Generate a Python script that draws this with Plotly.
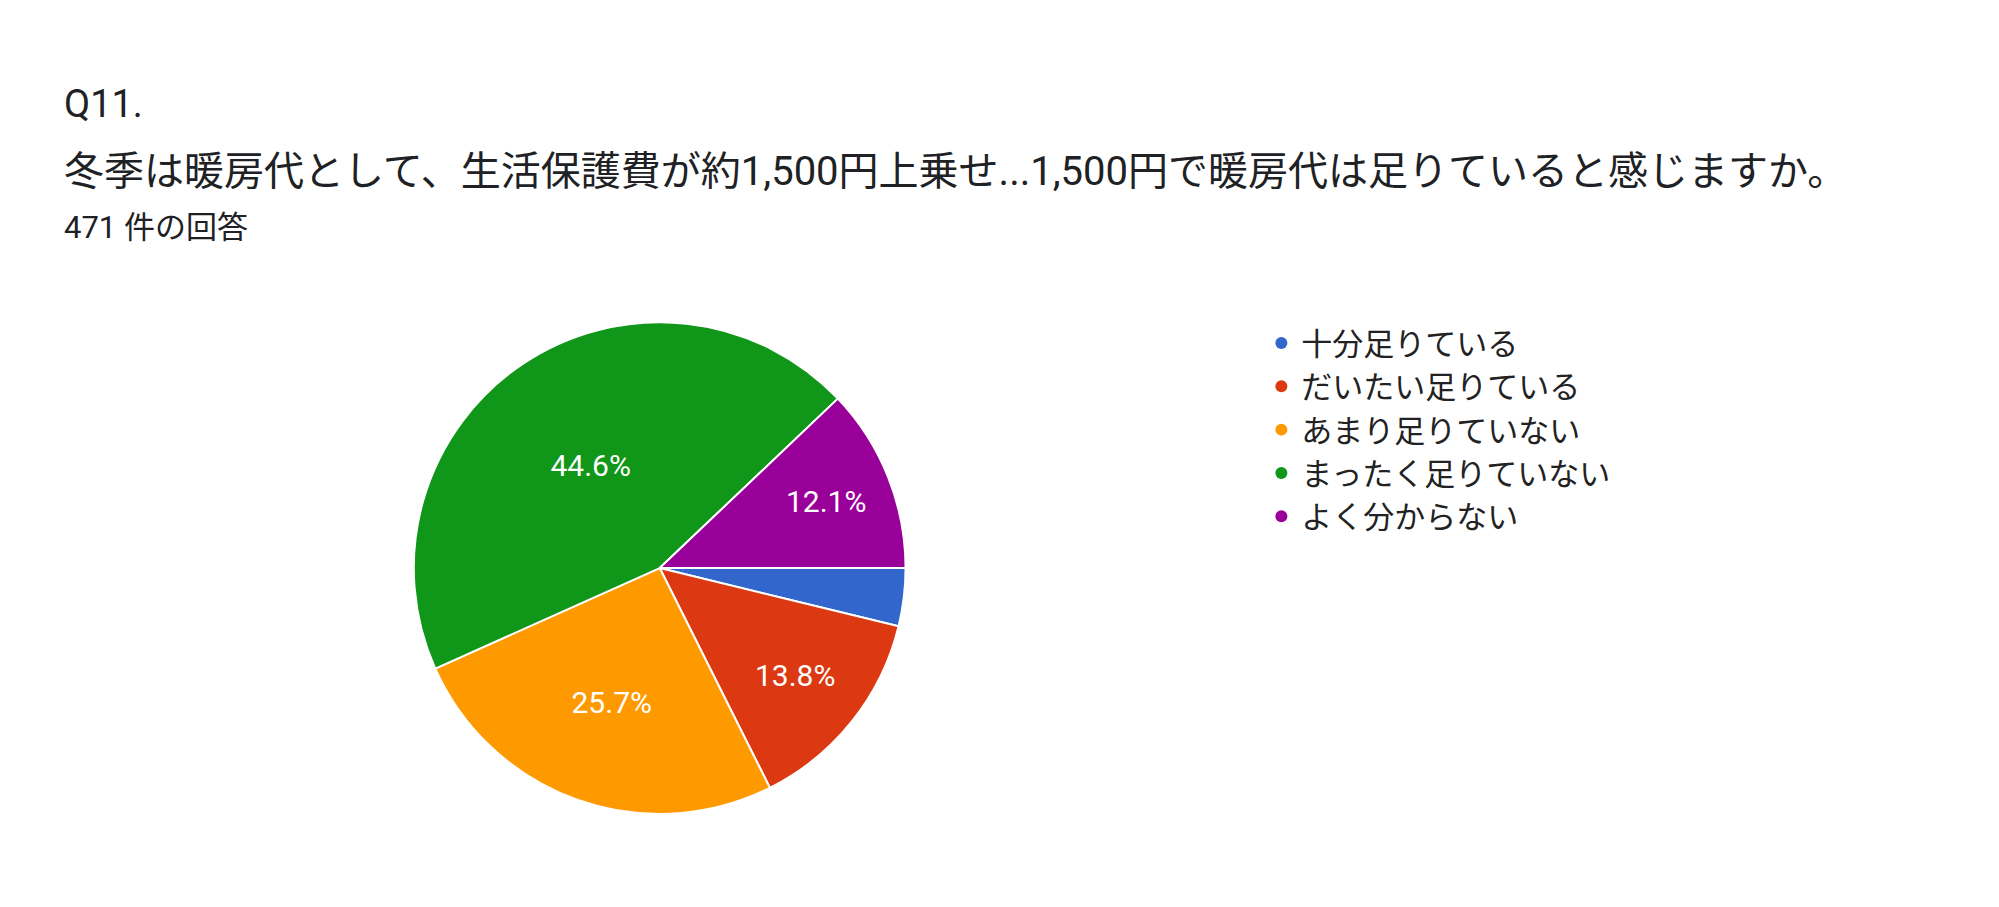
import plotly.graph_objects as go

labels = ["十分足りている", "だいたい足りている", "あまり足りていない", "まったく足りていない", "よく分からない"]
values = [3.8, 13.8, 25.7, 44.6, 12.1]
colors = ["#3366cc", "#dc3912", "#ff9900", "#109618", "#990099"]
texts = ["" if v < 5 else f"{v}%" for v in values]

W, H = 1999, 907
font = "Roboto, 'Noto Sans CJK JP', sans-serif"

fig = go.Figure()
fig.add_trace(go.Pie(
    labels=labels, values=values, sort=False, direction="clockwise", rotation=90,
    marker=dict(colors=colors, line=dict(color="white", width=2)),
    text=texts, texttemplate="%{text}", textposition="inside", insidetextorientation="horizontal",
    textfont=dict(color="white", size=30, family=font),
    showlegend=False, hoverinfo="label+percent",
    domain=dict(x=[0.203, 0.449], y=[0.111, 0.654]),
))
for l, c in zip(labels, colors):
    fig.add_trace(go.Scatter(x=[None], y=[None], mode="markers", name=l,
                             marker=dict(symbol="circle", size=28, color=c)))

fig.update_layout(
    width=W, height=H, paper_bgcolor="white", plot_bgcolor="white",
    margin=dict(l=0, r=0, t=0, b=0),
    xaxis=dict(visible=False), yaxis=dict(visible=False),
    legend=dict(x=0.627, y=0.66, xanchor="left", yanchor="top",
                font=dict(size=31, family=font, color="#222"), itemsizing="constant",
                tracegroupgap=0),
    annotations=[
        dict(text="Q11.", x=54/W, y=1-96/H, xref="paper", yref="paper", xanchor="left", yanchor="middle",
             showarrow=False, font=dict(size=38, family=font, color="#202124")),
        dict(text="冬季は暖房代として、生活保護費が約1,500円上乗せ...1,500円で暖房代は足りていると感じますか。",
             x=54/W, y=1-164/H, xref="paper", yref="paper", xanchor="left", yanchor="middle",
             showarrow=False, font=dict(size=40, family=font, color="#202124")),
        dict(text="471 件の回答", x=54/W, y=1-219/H, xref="paper", yref="paper", xanchor="left", yanchor="middle",
             showarrow=False, font=dict(size=31, family=font, color="#202124")),
    ],
)
fig.write_html("out.html")
